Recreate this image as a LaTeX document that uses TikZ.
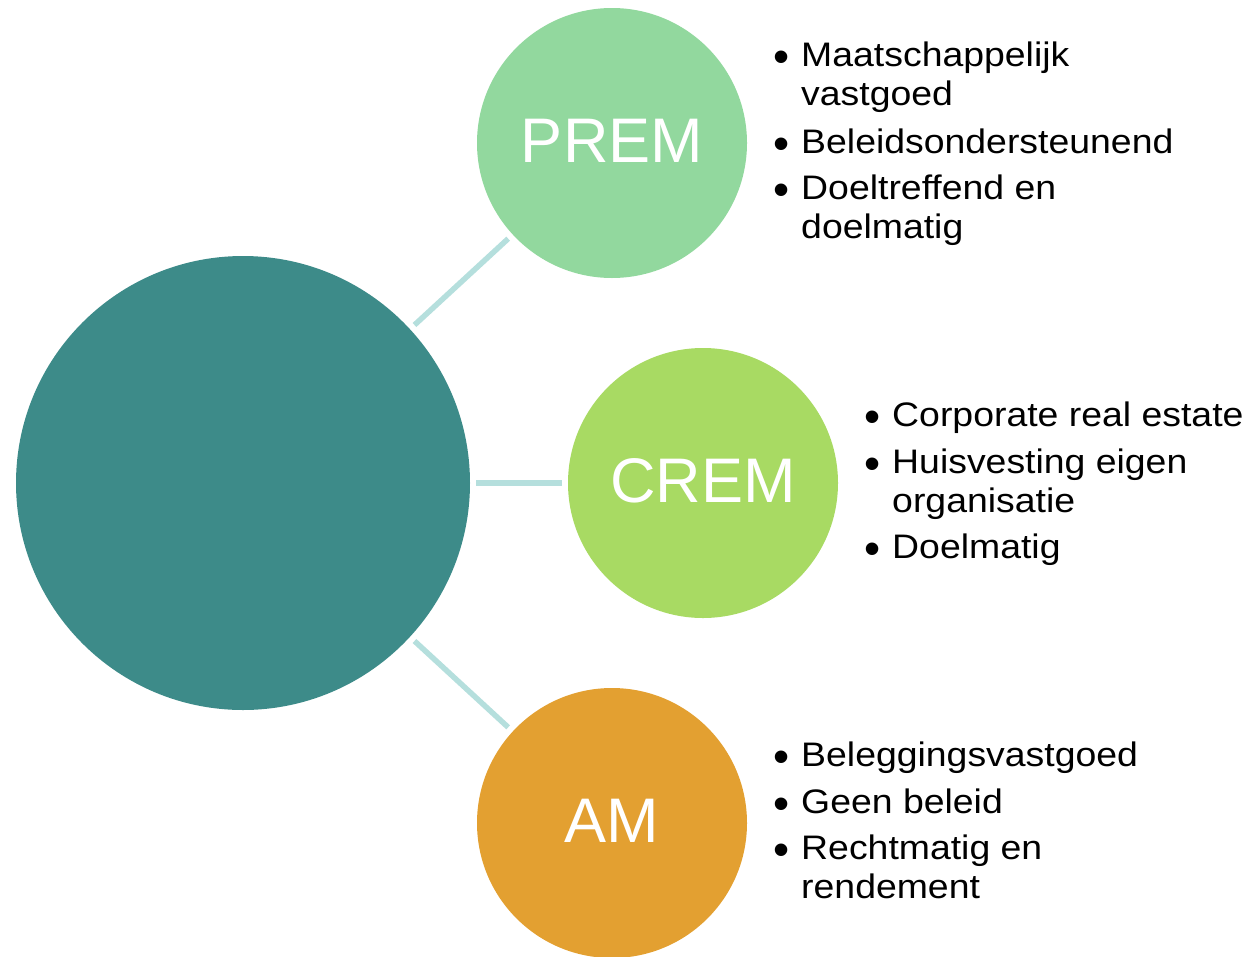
\documentclass[tikz,border=0pt]{standalone}
\usepackage{fontspec}
\setmainfont{Liberation Sans}
\newfontfamily\itemfont{Liberation Sans}[FakeStretch=1.1]
\definecolor{bigteal}{HTML}{3D8B89}
\definecolor{premcol}{HTML}{92D89E}
\definecolor{cremcol}{HTML}{A8DA63}
\definecolor{amcol}{HTML}{E3A031}
\definecolor{linecol}{HTML}{B5DFDD}
\begin{document}
\begin{tikzpicture}[x=1pt,y=-1pt,
  bubble/.style={circle, inner sep=0pt, minimum size=270pt, draw=none},
  lbl/.style={anchor=base, text=white, inner sep=0pt, font=\fontsize{63}{70}\selectfont},
  itm/.style={anchor=base west, inner sep=0pt, font=\itemfont\fontsize{34}{39}\selectfont},
  bul/.style={anchor=base, inner sep=0pt, font=\fontsize{46}{50}\selectfont, yshift=-6pt},
  conn/.style={draw=linecol, line width=5.5pt, shorten >=6pt, shorten <=6pt}]
\useasboundingbox (0,0) rectangle (1250,956);

% circles
\node[bubble, fill=bigteal, minimum size=454pt] (big) at (243,483) {};
\node[bubble, fill=premcol] (prem) at (612,143) {};
\node[bubble, fill=cremcol] (crem) at (703,483) {};
\node[bubble, fill=amcol] (am) at (612,823) {};

% connectors
\draw[conn] (big) -- (prem);
\draw[conn] (big) -- (crem);
\draw[conn] (big) -- (am);

% labels
\node[lbl] (premlbl) at (612,162.5) {PREM};
\node[lbl] (cremlbl) at (703,502.5) {CREM};
\node[lbl] (amlbl) at (612,842.5) {AM};

% PREM items
\node[bul] (pb1) at (782,66.5) {\textbullet};
\node[itm] (p1a) at (801,66.5) {Maatschappelijk};
\node[itm] (p1b) at (801,105.5) {vastgoed};
\node[bul] (pb2) at (782,153) {\textbullet};
\node[itm] (p2a) at (801,153) {Beleidsondersteunend};
\node[bul] (pb3) at (782,199) {\textbullet};
\node[itm] (p3a) at (801,199) {Doeltreffend en};
\node[itm] (p3b) at (801,238) {doelmatig};

% CREM items
\node[bul] (cb1) at (873,426.5) {\textbullet};
\node[itm] (c1a) at (892,426.5) {Corporate real estate};
\node[bul] (cb2) at (873,473) {\textbullet};
\node[itm] (c2a) at (892,473) {Huisvesting eigen};
\node[itm] (c2b) at (892,512) {organisatie};
\node[bul] (cb3) at (873,558.5) {\textbullet};
\node[itm] (c3a) at (892,558.5) {Doelmatig};

% AM items
\node[bul] (ab1) at (782,766.5) {\textbullet};
\node[itm] (a1a) at (801,766.5) {Beleggingsvastgoed};
\node[bul] (ab2) at (782,813) {\textbullet};
\node[itm] (a2a) at (801,813) {Geen beleid};
\node[bul] (ab3) at (782,859) {\textbullet};
\node[itm] (a3a) at (801,859) {Rechtmatig en};
\node[itm] (a3b) at (801,898) {rendement};
\end{tikzpicture}
\end{document}
